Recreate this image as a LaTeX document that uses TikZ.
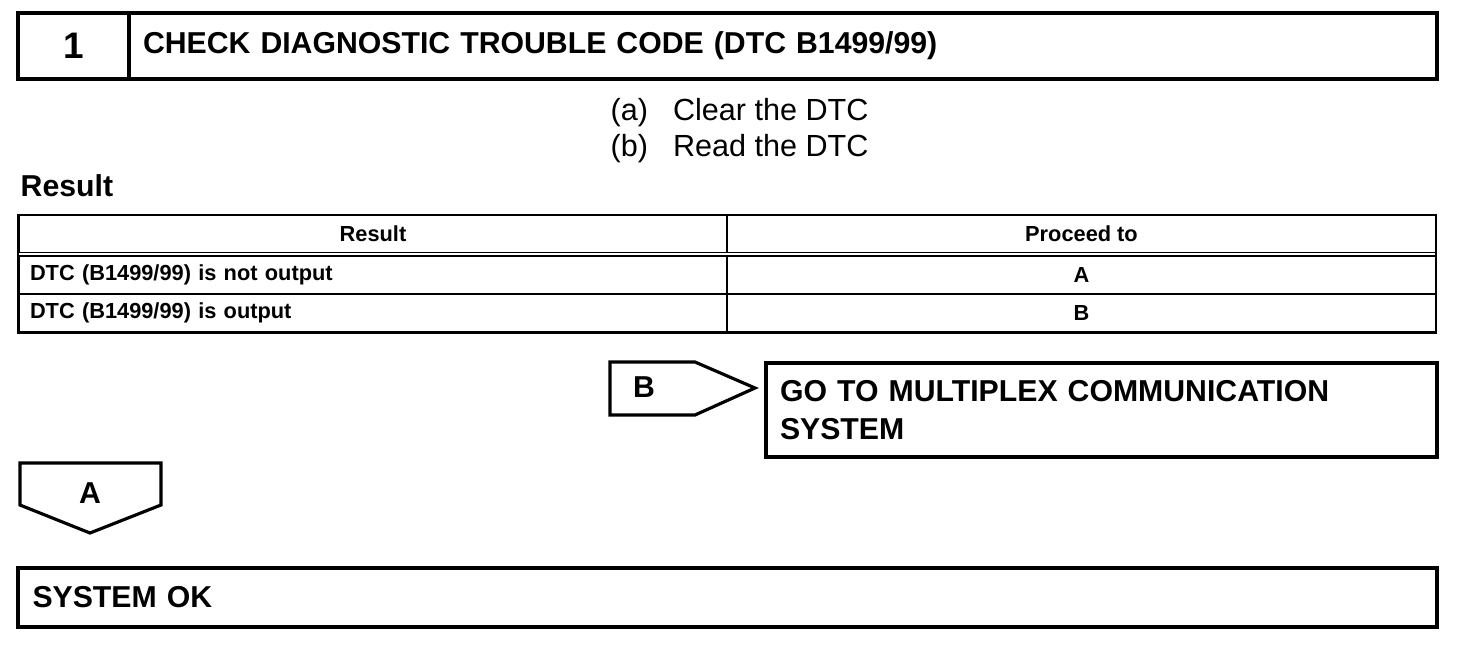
\documentclass[tikz,border=0pt]{standalone}
\usepackage{fontspec}
\setmainfont{Liberation Sans}
\usetikzlibrary{positioning}
\tikzset{box/.style={draw,line width=1.1pt,minimum height=0.66cm,inner sep=0pt},
cell/.style={draw,line width=0.35pt,minimum width=7.08cm,minimum height=0.38cm,inner sep=0pt,font=\fontsize{6.2}{7}\selectfont\bfseries},
tag/.style={draw,line width=0.9pt,line join=miter},
big/.style={font=\fontsize{8.6}{10.6}\selectfont\bfseries}}
\begin{document}
\begin{tikzpicture}
\useasboundingbox (0,0) rectangle (14.72,-6.58);
\node[box,minimum width=1.11cm,font=\fontsize{10.5}{12}\selectfont\bfseries](num)at(0.735,-0.46){1};
\node[box,minimum width=13.08cm,text width=12.8cm,inner xsep=0.14cm,align=left,big](title)at(7.83,-0.46){CHECK DIAGNOSTIC TROUBLE CODE (DTC B1499/99)};
\node[anchor=west,inner sep=0pt,font=\fontsize{8.7}{10}\selectfont](stepa)at(6.10,-1.13){(a)\hspace{0.25cm}Clear the DTC};
\node[anchor=west,inner sep=0pt,font=\fontsize{8.7}{10}\selectfont](stepb)at(6.10,-1.49){(b)\hspace{0.25cm}Read the DTC};
\node[anchor=west,inner sep=0pt,big](res)at(0.20,-1.86){Result};
% result table
\node[cell,minimum height=0.37cm](h1)at(3.73,-2.34){Result};
\node[cell,minimum height=0.37cm](h2)at(10.815,-2.34){Proceed to};
\node[cell,text width=6.86cm,align=left](r1a)at(3.73,-2.75){DTC (B1499/99) is not output};
\node[cell](r1b)at(10.815,-2.75){A};
\node[cell,text width=6.86cm,align=left](r2a)at(3.73,-3.13){DTC (B1499/99) is output};
\node[cell](r2b)at(10.815,-3.13){B};
\draw[line width=0.6pt](h1.north west)rectangle(r2b.south east);
% B branch
\draw[tag](6.10,-3.62)--(6.95,-3.62)--(7.55,-3.88)--(6.95,-4.15)--(6.10,-4.15)--cycle;
\node[big](tagb)at(6.44,-3.87){B};
\node[box,minimum width=6.71cm,minimum height=0.94cm,text width=6.43cm,inner xsep=0.13cm,align=left,big](goto)at(11.015,-4.10){GO TO MULTIPLEX COMMUNICATION\\SYSTEM};
% A branch
\draw[tag](0.20,-4.63)--(1.61,-4.63)--(1.61,-5.05)--(0.90,-5.33)--(0.20,-5.05)--cycle;
\node[big](taga)at(0.90,-4.93){A};
\node[box,minimum width=14.19cm,minimum height=0.59cm,text width=13.9cm,inner xsep=0.14cm,align=left,big](ok)at(7.275,-5.975){SYSTEM OK};
\end{tikzpicture}
\end{document}
